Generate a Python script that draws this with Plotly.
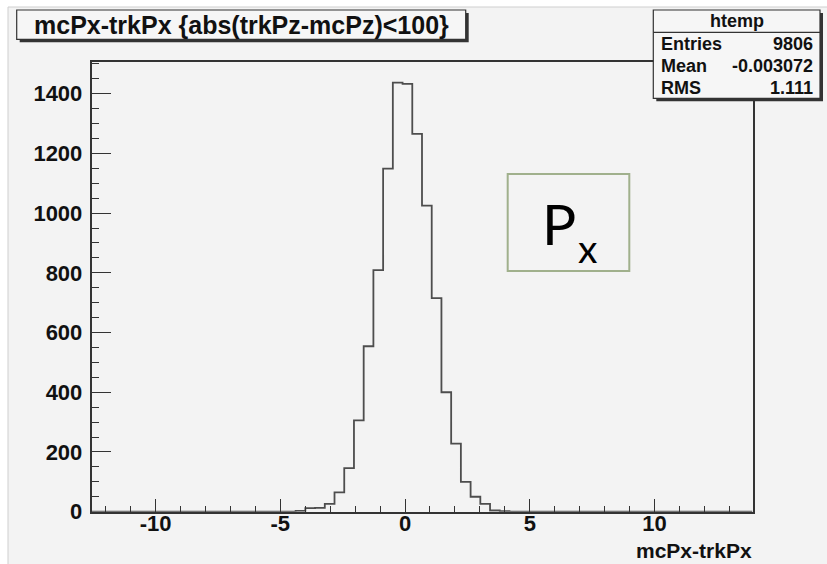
import numpy as np
import plotly.graph_objects as go

W, H = 827, 564

# ---- data ----
x_min = -12.57
x_max = 13.93
n_bins = 68
first_bin = 21
counts_nonzero = [3, 12, 13, 26, 65, 146, 306, 554, 809, 1149, 1437,
                  1433, 1265, 1025, 715, 400, 228, 100, 50, 26, 4, 2]
y_max = 1506

x_tick_values = [-10, -5, 0, 5, 10]
x_tick_labels = ["-10", "-5", "0", "5", "10"]
y_tick_values = [0, 200, 400, 600, 800, 1000, 1200, 1400]
y_tick_labels = ["0", "200", "400", "600", "800", "1000", "1200", "1400"]

title_text = "mcPx-trkPx {abs(trkPz-mcPz)<100}"
x_title = "mcPx-trkPx"
stats_name = "htemp"
stats_labels = ["Entries", "Mean", "RMS"]
stats_values = ["9806", "-0.003072", "1.111"]

# ---- build histogram outline ----
counts = [0] * n_bins
counts[first_bin:first_bin + len(counts_nonzero)] = counts_nonzero
edges = np.linspace(x_min, x_max, n_bins + 1)
step_y = counts + [counts[-1]]


def px(x):
    return x / W


def py(y):
    return 1 - y / H


BG = "#f3f3f3"
FRAME = "#333333"
FONT = "Liberation Sans, Arial, sans-serif"

fig = go.Figure()
fig.add_trace(go.Scatter(
    x=edges, y=step_y, mode="lines", line_shape="hv",
    line=dict(color="#4d4d4d", width=1.8), hoverinfo="skip", showlegend=False))

fig.update_layout(
    width=W, height=H, autosize=False,
    margin=dict(l=0, r=0, t=0, b=0, pad=0, autoexpand=False),
    paper_bgcolor=BG,
    plot_bgcolor="rgba(0,0,0,0)",
    showlegend=False,
    xaxis=dict(
        domain=[px(91.5), px(752.5)],
        range=[x_min, x_max],
        showgrid=False, zeroline=False, automargin=False,
        showline=True, mirror=True, linecolor=FRAME, linewidth=1.5,
        tickmode="array", tickvals=x_tick_values, ticktext=x_tick_labels,
        ticks="inside", ticklen=13, tickwidth=1.2, tickcolor=FRAME,
        minor=dict(ticks="inside", ticklen=6, tickwidth=1.2, tickcolor=FRAME,
                   tickmode="linear", tick0=0, dtick=1, showgrid=False),
        tickfont=dict(family=FONT, size=22, color="#111111", weight="bold"),
        ticklabelstandoff=-9,
    ),
    yaxis=dict(
        domain=[py(511.7), py(62)],
        range=[0, y_max],
        showgrid=False, zeroline=False, automargin=False,
        showline=True, mirror=True, linecolor=FRAME, linewidth=1.5,
        tickmode="array", tickvals=y_tick_values, ticktext=y_tick_labels,
        ticks="inside", ticklen=20, tickwidth=1.2, tickcolor=FRAME,
        minor=dict(ticks="inside", ticklen=8, tickwidth=1.2, tickcolor=FRAME,
                   tickmode="linear", tick0=0, dtick=50, showgrid=False),
        tickfont=dict(family=FONT, size=22, color="#111111", weight="bold"),
        ticklabelstandoff=3,
    ),
)

shapes = []
# white strip outside the canvas (top and left) + canvas border lines
shapes.append(dict(type="rect", xref="paper", yref="paper",
                   x0=0, y0=py(7), x1=1, y1=1,
                   fillcolor="white", line=dict(width=0), layer="below"))
shapes.append(dict(type="rect", xref="paper", yref="paper",
                   x0=0, y0=0, x1=px(8), y1=1,
                   fillcolor="white", line=dict(width=0), layer="below"))
shapes.append(dict(type="line", xref="paper", yref="paper",
                   x0=px(8), y0=py(7), x1=1, y1=py(7),
                   line=dict(color="#cfcfcf", width=1), layer="below"))
shapes.append(dict(type="line", xref="paper", yref="paper",
                   x0=px(8), y0=py(7), x1=px(8), y1=0,
                   line=dict(color="#cfcfcf", width=1), layer="below"))


def shadow_box(x0, y0, x1, y1):
    shapes.append(dict(type="rect", xref="paper", yref="paper",
                       x0=px(x0 + 3), y0=py(y0 + 3), x1=px(x1 + 3), y1=py(y1 + 3),
                       fillcolor="#333333", line=dict(width=0), layer="above"))
    shapes.append(dict(type="rect", xref="paper", yref="paper",
                       x0=px(x0), y0=py(y0), x1=px(x1), y1=py(y1),
                       fillcolor="#f6f6f6", line=dict(color="#333333", width=1.2),
                       layer="above"))


shadow_box(16.7, 10, 465.7, 39.3)
shadow_box(653.3, 10, 820, 98.3)
shapes.append(dict(type="line", xref="paper", yref="paper",
                   x0=px(653.3), y0=py(32.3), x1=px(820), y1=py(32.3),
                   line=dict(color="#333333", width=1.2), layer="above"))
# Px box
shapes.append(dict(type="rect", xref="paper", yref="paper",
                   x0=px(507.7), y0=py(174), x1=px(629.3), y1=py(271),
                   line=dict(color="#a0b08c", width=2), layer="above"))
fig.update_layout(shapes=shapes)

ann = []
ann.append(dict(x=px(241.5), y=py(25), xref="paper", yref="paper", text=title_text,
                showarrow=False, xanchor="center", yanchor="middle",
                font=dict(family=FONT, size=25, color="#111111", weight="bold")))
ann.append(dict(x=px(736.6), y=py(20.5), xref="paper", yref="paper", text=stats_name,
                showarrow=False, xanchor="center", yanchor="middle",
                font=dict(family=FONT, size=18, color="#111111", weight="bold")))
row_y = [43.5, 65.5, 88]
for lab, val, yy in zip(stats_labels, stats_values, row_y):
    ann.append(dict(x=px(659), y=py(yy), xref="paper", yref="paper", text=lab,
                    showarrow=False, xanchor="left", yanchor="middle",
                    font=dict(family=FONT, size=18, color="#111111", weight="bold")))
    ann.append(dict(x=px(815), y=py(yy), xref="paper", yref="paper", text=val,
                    showarrow=False, xanchor="right", yanchor="middle",
                    font=dict(family=FONT, size=18, color="#111111", weight="bold")))
ann.append(dict(x=px(754), y=py(550), xref="paper", yref="paper", text=x_title,
                showarrow=False, xanchor="right", yanchor="middle",
                font=dict(family=FONT, size=21, color="#111111", weight="bold")))
ann.append(dict(x=px(540), y=py(223), xref="paper", yref="paper", text="P",
                showarrow=False, xanchor="left", yanchor="middle",
                font=dict(family="Lato", size=57, color="#000000")))
ann.append(dict(x=px(576), y=py(248), xref="paper", yref="paper", text="x",
                showarrow=False, xanchor="left", yanchor="middle",
                font=dict(family="Lato", size=39, color="#000000")))
fig.update_layout(annotations=ann)

fig.write_html("out.html")
